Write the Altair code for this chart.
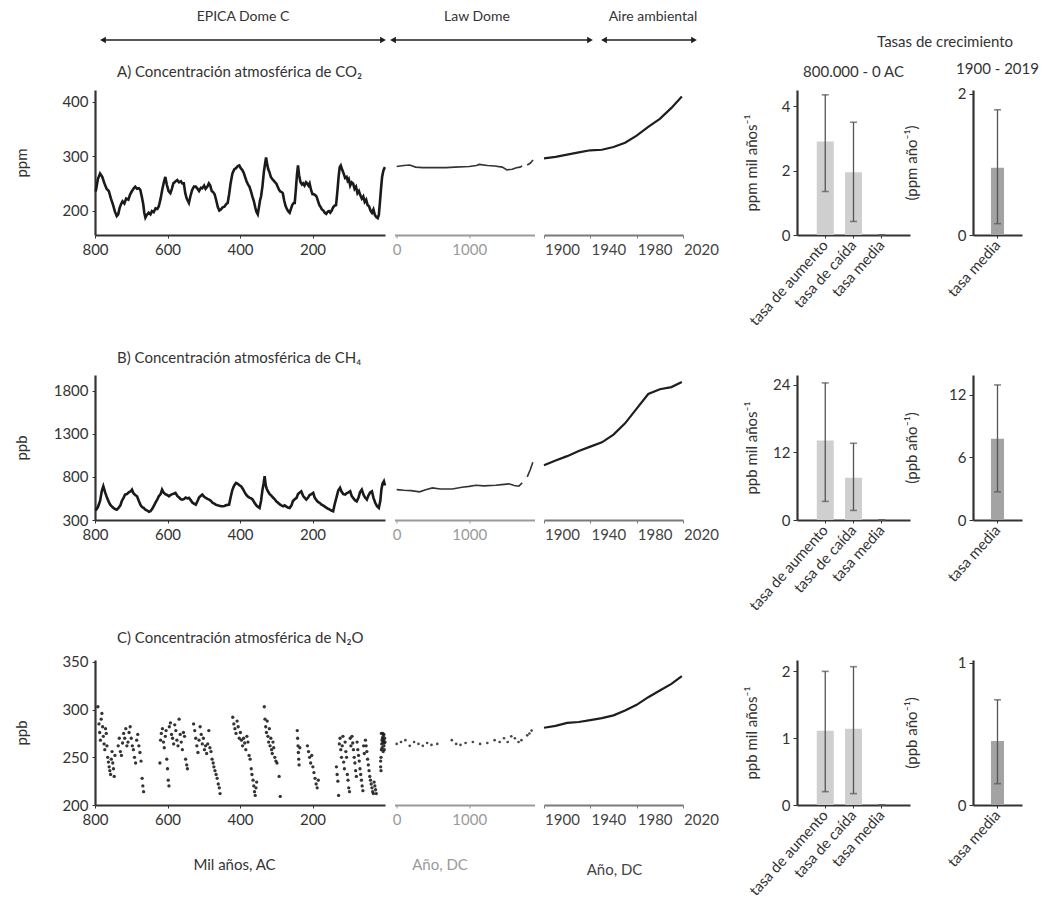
import altair as alt
import pandas as pd

FONT = "Lato, 'DejaVu Sans', sans-serif"
TXT = "#333333"

# ---------------- header ----------------
HDR_LABELS = ["EPICA Dome C", "Law Dome", "Aire ambiental", "Tasas de crecimiento"]
HDR_X = [243, 477, 653, 945]
HDR_Y = [17, 17, 17, 42]
HDR_SIZE = [14, 14, 14, 15]
ARROW_X0 = [103, 393, 604]
ARROW_X1 = [383, 590, 694]
ARROW_Y = [40, 40, 40]
TITLE_A = "A) Concentración atmosférica de CO₂"
TITLE_B = "B) Concentración atmosférica de CH₄"
TITLE_C = "C) Concentración atmosférica de N₂O"

# ---------------- EPICA Dome C (miles de años AC) ----------------
CO2_KA = [798, 792, 786, 780, 774, 768, 762, 756, 750, 745, 740, 736, 732, 728, 724, 719, 714, 708, 703, 698,
          693, 689, 684, 679, 675, 671, 667, 664, 661, 657, 652, 647, 643, 638, 633, 628, 624, 619, 614, 610,
          606, 602, 597, 592, 588, 584, 579, 573, 568, 563, 559, 555, 551, 547, 544, 541, 537, 532, 527, 522,
          517, 513, 508, 504, 499, 495, 490, 486, 482, 478, 474, 470, 466, 461, 457, 453, 448, 443, 438, 434,
          430, 426, 421, 416, 411, 406, 402, 398, 394, 390, 386, 382, 378, 374, 370, 366, 362, 358, 355, 351,
          348, 345, 342, 338, 334, 330, 328, 325, 322, 319, 315, 311, 307, 303, 300, 296, 292, 289, 285, 282,
          278, 274, 270, 266, 263, 259, 256, 252, 249, 246, 243, 240, 237, 233, 229, 226, 222, 218, 215, 211,
          208, 204, 200, 196, 192, 189, 185, 181, 177, 174, 170, 166, 162, 158, 155, 151, 147, 143, 139, 135,
          131, 128, 125, 122, 118, 114, 110, 106, 103, 100, 96, 92, 88, 84, 80, 76, 72, 68, 64, 60,
          56, 52, 48, 44, 40, 36, 32, 28, 24, 20, 17, 14, 11, 8, 5, 3, 1, 0]
CO2_PPM = [235, 258, 268, 262, 250, 240, 236, 222, 210, 198, 190, 193, 205, 212, 217, 213, 222, 220, 230, 236,
           241, 244, 240, 241, 238, 226, 212, 196, 187, 192, 196, 193, 199, 197, 204, 203, 208, 222, 240, 252,
           262, 248, 236, 232, 240, 250, 253, 256, 252, 254, 250, 250, 232, 222, 218, 214, 226, 238, 244, 244,
           240, 236, 242, 241, 246, 240, 244, 250, 246, 236, 234, 230, 220, 206, 200, 202, 206, 207, 212, 214,
           230, 250, 268, 276, 278, 282, 283, 278, 275, 270, 262, 254, 248, 244, 236, 226, 218, 206, 198, 193,
           205, 218, 226, 245, 272, 290, 298, 285, 276, 271, 262, 258, 255, 252, 250, 244, 238, 235, 234, 232,
           218, 208, 202, 198, 196, 204, 210, 214, 214, 238, 265, 283, 265, 252, 248, 250, 246, 252, 250, 246,
           250, 238, 230, 230, 228, 226, 218, 210, 206, 202, 200, 196, 194, 198, 199, 196, 200, 206, 209, 210,
           238, 262, 280, 283, 275, 268, 260, 262, 255, 258, 246, 252, 250, 240, 244, 232, 236, 228, 222, 226,
           216, 220, 210, 208, 200, 196, 202, 192, 188, 186, 192, 215, 240, 262, 272, 276, 279, 280]

CH4_KA = [798, 792, 786, 781, 777, 772, 767, 762, 758, 752, 746, 740, 735, 730, 726, 721, 717, 712, 707, 702,
          698, 694, 689, 684, 679, 674, 670, 666, 661, 656, 651, 647, 642, 637, 632, 628, 624, 619, 615, 611,
          606, 601, 596, 592, 587, 583, 578, 573, 568, 563, 559, 554, 550, 545, 541, 536, 531, 527, 522, 517,
          513, 508, 504, 499, 494, 490, 485, 480, 476, 471, 467, 462, 457, 452, 448, 443, 439, 434, 430, 426,
          421, 416, 411, 406, 401, 397, 392, 387, 383, 378, 374, 369, 365, 360, 355, 351, 346, 342, 338, 335,
          332, 329, 326, 323, 318, 313, 309, 304, 300, 295, 290, 286, 281, 277, 272, 268, 263, 258, 254, 249,
          244, 240, 235, 231, 226, 222, 217, 212, 208, 203, 198, 194, 189, 185, 180, 176, 171, 166, 161, 157,
          152, 148, 143, 139, 134, 129, 124, 120, 115, 110, 106, 101, 96, 92, 87, 83, 78, 73, 69, 64,
          59, 55, 50, 46, 41, 36, 32, 27, 22, 17, 13, 10, 7, 3, 0]
CH4_PPB = [410, 450, 520, 640, 692, 620, 560, 510, 478, 450, 430, 420, 440, 470, 520, 560, 594, 600, 620, 630,
           652, 610, 590, 575, 520, 470, 450, 440, 420, 410, 395, 401, 430, 470, 510, 540, 575, 600, 652, 620,
           600, 590, 575, 590, 600, 605, 614, 580, 560, 540, 536, 545, 560, 550, 556, 530, 500, 490, 478, 520,
           560, 580, 594, 570, 555, 545, 536, 520, 500, 490, 478, 470, 465, 460, 459, 462, 470, 475, 478, 560,
           650, 700, 730, 720, 700, 692, 660, 620, 594, 570, 560, 550, 536, 500, 470, 455, 440, 520, 650, 720,
           808, 700, 660, 633, 600, 580, 560, 540, 517, 500, 480, 470, 459, 470, 455, 445, 440, 470, 520, 540,
           556, 600, 620, 633, 580, 560, 536, 560, 590, 600, 614, 560, 530, 510, 498, 480, 470, 455, 440, 430,
           420, 410, 401, 480, 560, 640, 672, 630, 600, 594, 610, 620, 633, 580, 550, 530, 517, 560, 620, 652,
           590, 560, 536, 580, 620, 633, 560, 500, 460, 440, 520, 650, 720, 749, 700]

N2O_KA = [792, 789, 787, 785, 783, 781, 779, 777, 775, 773, 771, 769, 767, 765, 763, 761, 759, 757, 755, 753,
          751, 749, 747, 745, 736, 733, 730, 727, 724, 721, 718, 715, 712, 709, 706, 703, 700, 697, 694, 691,
          688, 685, 682, 679, 676, 673, 670, 668, 666, 621, 619, 617, 614, 611, 609, 606, 604, 602, 600, 598,
          596, 595, 592, 589, 586, 583, 580, 577, 574, 571, 568, 565, 562, 559, 556, 553, 550, 547, 545, 528,
          525, 522, 519, 516, 513, 510, 507, 504, 501, 498, 495, 492, 489, 486, 483, 480, 477, 474, 472, 469,
          466, 463, 460, 457, 455, 420, 417, 414, 411, 408, 405, 402, 399, 396, 393, 390, 387, 384, 381, 378,
          375, 372, 369, 367, 364, 362, 360, 358, 356, 354, 333, 331, 329, 327, 325, 323, 321, 319, 317, 315,
          313, 311, 309, 307, 304, 301, 298, 292, 289, 242, 241, 240, 239, 238, 237, 235, 214, 211, 208, 205,
          202, 199, 196, 193, 190, 187, 184, 134, 132, 130, 128, 126, 124, 122, 120, 118, 116, 114, 112, 110,
          108, 106, 104, 102, 100, 98, 96, 94, 91, 89, 87, 85, 83, 81, 79, 77, 75, 73, 71, 69,
          67, 65, 63, 61, 59, 57, 54, 52, 50, 48, 46, 44, 42, 40, 38, 36, 34, 32, 30, 28,
          26, 24, 12, 11, 10, 9, 8, 7, 6, 5, 4, 3, 2, 1, 0, 10, 6, 3, 8, 5,
          2, 12, 11]
N2O_PPB = [303, 285, 276, 268, 290, 296, 282, 272, 264, 258, 280, 275, 262, 250, 245, 240, 236, 232, 248, 256,
           244, 238, 230, 252, 262, 270, 256, 252, 265, 275, 270, 280, 262, 266, 276, 282, 270, 262, 258, 250,
           244, 268, 274, 262, 255, 246, 228, 220, 214, 244, 268, 275, 280, 266, 260, 272, 278, 248, 238, 226,
           220, 282, 286, 274, 270, 264, 284, 278, 268, 262, 290, 274, 266, 258, 276, 272, 248, 242, 238, 285,
           278, 270, 262, 255, 268, 282, 274, 264, 270, 258, 262, 254, 264, 278, 260, 256, 248, 244, 240, 236,
           232, 228, 222, 218, 212, 292, 285, 280, 275, 288, 282, 270, 276, 268, 262, 270, 265, 258, 272, 266,
           252, 248, 238, 232, 226, 220, 214, 210, 218, 224, 303, 290, 282, 276, 288, 272, 266, 280, 262, 270,
           258, 254, 266, 260, 250, 246, 244, 230, 209, 278, 270, 262, 255, 248, 242, 260, 262, 256, 250, 244,
           252, 240, 234, 228, 222, 218, 226, 240, 232, 225, 210, 264, 270, 258, 250, 262, 272, 245, 238, 266,
           256, 250, 232, 226, 218, 214, 270, 262, 272, 265, 258, 250, 244, 236, 230, 266, 258, 252, 246, 238,
           232, 226, 220, 215, 262, 254, 268, 262, 256, 248, 242, 236, 230, 226, 222, 218, 214, 212, 224, 220,
           216, 212, 240, 250, 258, 264, 268, 270, 266, 272, 268, 262, 265, 270, 266, 275, 275, 274, 260, 256,
           258, 246, 236]

# ---------------- Law Dome (años DC) ----------------
LD_CO2_YR = [0, 100, 178, 260, 361, 500, 680, 800, 1000, 1100, 1137, 1250, 1350, 1456, 1520, 1593, 1650, 1700, 1730,
             1800, 1840, 1880]
LD_CO2_PPM = [281, 283, 284, 280, 279, 279, 279, 280, 281, 283, 285, 283, 282, 280, 275, 276, 279, 280, 282,
              284, 287, 293]
LD_CO2_SEG = [1] * 19 + [2] * 3

LD_CH4_YR = [0, 100, 200, 315, 400, 493, 600, 767, 900, 1000, 1092, 1200, 1366, 1450, 1548, 1620, 1685, 1730,
             1800, 1840, 1877]
LD_CH4_PPB = [652, 645, 640, 626, 650, 672, 660, 660, 680, 690, 703, 695, 703, 710, 719, 700, 692, 730,
              800, 880, 970]
LD_CH4_SEG = [1] * 18 + [2] * 3

LD_N2O_YR = [0, 60, 120, 180, 240, 300, 360, 420, 480, 560, 760, 820, 880, 950, 1050, 1150, 1250, 1350, 1420,
             1480, 1530, 1580, 1630, 1680, 1720, 1800, 1830, 1860]
LD_N2O_PPB = [264, 266, 268, 262, 266, 264, 262, 265, 263, 264, 268, 264, 263, 265, 266, 264, 265, 268, 266,
              270, 266, 272, 270, 266, 268, 273, 275, 278]

# ---------------- Aire ambiental (años DC) ----------------
AMB_YR = [1900, 1910, 1920, 1930, 1940, 1950, 1960, 1970, 1980, 1990, 2000, 2010, 2019]
AMB_CO2 = [296, 299, 303, 307, 311, 312, 317, 325, 338, 354, 369, 389, 410]
AMB_CH4 = [935, 990, 1040, 1100, 1150, 1200, 1290, 1420, 1590, 1760, 1815, 1840, 1900]
AMB_N2O = [281, 283, 286, 287, 289, 291, 294, 299, 305, 313, 320, 327, 335]

# ---------------- tasas de crecimiento ----------------
CATS_L = ["tasa de aumento", "tasa de caída", "tasa media"]
CATS_R = ["tasa media"]
CO2_L = [2.9, 1.95, 0.0]
CO2_L_LO = [1.35, 0.42, 0.0]
CO2_L_HI = [4.35, 3.5, 0.0]
CO2_R = [0.95]
CO2_R_LO = [0.16]
CO2_R_HI = [1.77]
CH4_L = [14.1, 7.5, 0.0]
CH4_L_LO = [3.3, 1.7, 0.0]
CH4_L_HI = [24.3, 13.6, 0.0]
CH4_R = [7.8]
CH4_R_LO = [2.7]
CH4_R_HI = [12.95]
N2O_L = [1.11, 1.14, 0.0]
N2O_L_LO = [0.2, 0.17, 0.0]
N2O_L_HI = [2.0, 2.07, 0.0]
N2O_R = [0.45]
N2O_R_LO = [0.15]
N2O_R_HI = [0.74]

PH = 145  # plot height
ROW_A_TOP = 90  # page y of row A plot top (used to anchor the header layer)


def ax(**kw):
    base = dict(labelFont=FONT, labelFontSize=15, labelColor=TXT, titleFont=FONT, titleFontSize=15,
                titleColor=TXT, titleFontWeight="normal", domainColor="#333333", domainWidth=2.2,
                tickColor="#333333", tickSize=3, grid=False, labelFlush=False, labelOverlap=False)
    base.update(kw)
    return alt.Axis(**base)


def row_title(text):
    return alt.TitleParams(text=text, anchor="start", frame="group", dx=22, fontSize=15, font=FONT, color=TXT,
                           fontWeight="normal", offset=9)


def epica_chart(ka, vals, ydom, yticks, ytitle, points=False, bottom=False):
    df = pd.DataFrame({"ka": ka, "v": vals})
    xkw = dict(values=[800, 600, 400, 200], title=None, labelPadding=4, format="d")
    if bottom:
        xkw.update(title="Mil años, AC", titleX=139, titleY=52)
    x = alt.X("ka:Q", scale=alt.Scale(domain=[800, 0], nice=False, zero=False), axis=ax(**xkw))
    y = alt.Y("v:Q", scale=alt.Scale(domain=ydom, nice=False, zero=False),
              axis=ax(values=yticks, title=ytitle, titleX=-66, titleY=PH / 2, labelPadding=4, format="d"))
    base = alt.Chart(df)
    if points:
        m = base.mark_circle(size=11, color="#1e1e1e", opacity=0.9)
    else:
        m = base.mark_line(color="#1a1a1a", strokeWidth=2.6)
    return m.encode(x=x, y=y)


def header_layers():
    # page-coordinate scales anchored to the first panel (x: 95..385, y: 90..235)
    hx = alt.Scale(domain=[95, 385], nice=False, zero=False)
    hy = alt.Scale(domain=[ROW_A_TOP, ROW_A_TOP + PH], nice=False, zero=False, reverse=True)
    hdr_txt = pd.DataFrame({"label": HDR_LABELS, "x": HDR_X, "y": HDR_Y, "fs": HDR_SIZE})
    hdr_arr = pd.DataFrame({"x": ARROW_X0, "x2": ARROW_X1, "y": ARROW_Y})
    ttl = pd.DataFrame({"label": [TITLE_A], "x": [117], "y": [72]})
    h_text = alt.Chart(hdr_txt).mark_text(font=FONT, color=TXT, baseline="middle").encode(
        x=alt.X("x:Q", scale=hx, axis=None), y=alt.Y("y:Q", scale=hy, axis=None), text="label:N",
        size=alt.Size("fs:Q", scale=None, legend=None))
    h_title = alt.Chart(ttl).mark_text(font=FONT, color=TXT, baseline="middle", align="left", fontSize=15).encode(
        x=alt.X("x:Q", scale=hx, axis=None), y=alt.Y("y:Q", scale=hy, axis=None), text="label:N")
    h_rule = alt.Chart(hdr_arr).mark_rule(color="#1e1e1e", strokeWidth=1.6).encode(
        x=alt.X("x:Q", scale=hx, axis=None), x2="x2:Q", y=alt.Y("y:Q", scale=hy, axis=None))
    h_left = alt.Chart(hdr_arr).mark_point(shape="triangle-left", filled=True, size=45, color="#1e1e1e",
                                           opacity=1).encode(
        x=alt.X("x:Q", scale=hx, axis=None), y=alt.Y("y:Q", scale=hy, axis=None))
    h_right = alt.Chart(hdr_arr).mark_point(shape="triangle-right", filled=True, size=45, color="#1e1e1e",
                                            opacity=1).encode(
        x=alt.X("x2:Q", scale=hx, axis=None), y=alt.Y("y:Q", scale=hy, axis=None))
    return [h_rule, h_left, h_right, h_text, h_title]


def epica_panel(ka, vals, ydom, yticks, ytitle, title=None, points=False, bottom=False, header=False):
    main = epica_chart(ka, vals, ydom, yticks, ytitle, points, bottom)
    if header:
        return alt.layer(main, *header_layers()).resolve_scale(x="independent", y="independent").properties(
            width=290, height=PH)
    return alt.layer(main).properties(width=290, height=PH, title=row_title(title))


def lawdome_panel(yr, vals, seg, ydom, points=False, bottom=False):
    df = pd.DataFrame({"yr": yr, "v": vals, "seg": seg})
    xkw = dict(values=[0, 1000], title=None, domainColor="#9a9a9a", labelColor="#9a9a9a",
               tickColor="#9a9a9a", labelPadding=4, format="d")
    if bottom:
        xkw.update(title="Año, DC", titleColor="#9a9a9a", titleX=45, titleY=52)
    x = alt.X("yr:Q", scale=alt.Scale(domain=[-30, 1900], nice=False, zero=False), axis=ax(**xkw))
    y = alt.Y("v:Q", scale=alt.Scale(domain=ydom, nice=False, zero=False), axis=None)
    base = alt.Chart(df)
    if points:
        return base.mark_circle(size=7, color="#333333", opacity=0.9).encode(x=x, y=y).properties(
            width=140, height=PH)
    return base.mark_line(color="#333333", strokeWidth=1.6).encode(x=x, y=y, detail="seg:N").properties(
        width=140, height=PH)


def ambient_panel(vals, ydom, bottom=False):
    df = pd.DataFrame({"yr": AMB_YR, "v": vals})
    xkw = dict(values=[1900, 1940, 1980, 2020], title=None, domainColor="#7a7a7a", labelColor="#444444",
               tickColor="#7a7a7a", labelOffset=18, labelPadding=4, format="d")
    if bottom:
        xkw.update(title="Año, DC", titleColor="#444444", titleX=70, titleY=57)
    x = alt.X("yr:Q", scale=alt.Scale(domain=[1900, 2020], nice=False, zero=False), axis=ax(**xkw))
    y = alt.Y("v:Q", scale=alt.Scale(domain=ydom, nice=False, zero=False), axis=None)
    return alt.Chart(df).mark_line(color="#1e1e1e", strokeWidth=2.2).encode(x=x, y=y).properties(
        width=139, height=PH)


def bar_panel(cats, vals, lo, hi, ydom, yticks, ytitle, fill, width, pin, pout, title_x, title=None):
    df = pd.DataFrame({"cat": cats, "v": vals, "lo": lo, "hi": hi})
    x = alt.X("cat:N", sort=cats, scale=alt.Scale(paddingInner=pin, paddingOuter=pout),
              axis=ax(title=None, labelAngle=-48, labelAlign="right", labelBaseline="middle",
                      labelFontSize=15, labelPadding=4, tickSize=3))
    ysc = alt.Scale(domain=ydom, nice=False, zero=True)
    y = alt.Y("v:Q", scale=ysc, axis=ax(values=yticks, title=ytitle, titleX=title_x, titleY=PH / 2,
                                         tickSize=4, labelPadding=3, format="d"))
    base = alt.Chart(df)
    bars = base.mark_bar(color=fill).encode(x=x, y=y)
    err = base.mark_rule(color="#555555", strokeWidth=1.3).encode(x=x, y=alt.Y("lo:Q", scale=ysc), y2="hi:Q")
    cap_lo = base.mark_tick(color="#555555", thickness=1.6, size=7).encode(x=x, y=alt.Y("lo:Q", scale=ysc))
    cap_hi = base.mark_tick(color="#555555", thickness=1.6, size=7).encode(x=x, y=alt.Y("hi:Q", scale=ysc))
    props = dict(width=width, height=PH)
    if title:
        props["title"] = alt.TitleParams(text=title, anchor="middle", frame="group", fontSize=15, font=FONT,
                                         color=TXT, fontWeight="normal", offset=10)
    return alt.layer(bars, err, cap_lo, cap_hi).properties(**props)


def spacer(w):
    return alt.Chart(pd.DataFrame({"s": [0]})).mark_point(opacity=0).encode(
        x=alt.X("s:Q", axis=None), y=alt.Y("s:Q", axis=None)).properties(width=w, height=PH)


def row(ep, ld, am, bl, br):
    return [ep, ld, am, spacer(95), bl, spacer(44), br]


cells = []
cells += row(
    epica_panel(CO2_KA, CO2_PPM, [155, 422], [200, 300, 400], "ppm", header=True),
    lawdome_panel(LD_CO2_YR, LD_CO2_PPM, LD_CO2_SEG, [155, 422]),
    ambient_panel(AMB_CO2, [155, 422]),
    bar_panel(CATS_L, CO2_L, CO2_L_LO, CO2_L_HI, [0, 4.5], [0, 2, 4], "ppm mil años⁻¹", "#cfcfcf", 113, 0.4, 0.7,
              -38, "800.000 - 0 AC"),
    bar_panel(CATS_R, CO2_R, CO2_R_LO, CO2_R_HI, [0, 2.05], [0, 1, 2], "(ppm año⁻¹)", "#a3a3a3", 49, 0.5, 0.69,
              -54, "1900 - 2019"),
)
cells += row(
    epica_panel(CH4_KA, CH4_PPB, [300, 1980], [300, 800, 1300, 1800], "ppb", TITLE_B),
    lawdome_panel(LD_CH4_YR, LD_CH4_PPB, LD_CH4_SEG, [300, 1980]),
    ambient_panel(AMB_CH4, [300, 1980]),
    bar_panel(CATS_L, CH4_L, CH4_L_LO, CH4_L_HI, [0, 25.7], [0, 12, 24], "ppb mil años⁻¹", "#cfcfcf", 113, 0.4, 0.7,
              -38),
    bar_panel(CATS_R, CH4_R, CH4_R_LO, CH4_R_HI, [0, 13.9], [0, 6, 12], "(ppb año⁻¹)", "#a3a3a3", 49, 0.5, 0.69,
              -54),
)
cells += row(
    epica_panel(N2O_KA, N2O_PPB, [200, 352], [200, 250, 300, 350], "ppb", TITLE_C, points=True, bottom=True),
    lawdome_panel(LD_N2O_YR, LD_N2O_PPB, [1] * len(LD_N2O_YR), [200, 352], points=True, bottom=True),
    ambient_panel(AMB_N2O, [200, 352], bottom=True),
    bar_panel(CATS_L, N2O_L, N2O_L_LO, N2O_L_HI, [0, 2.17], [0, 1, 2], "ppb mil años⁻¹", "#cfcfcf", 113, 0.4, 0.7,
              -38),
    bar_panel(CATS_R, N2O_R, N2O_R_LO, N2O_R_HI, [0, 1.02], [0, 1], "(ppb año⁻¹)", "#a3a3a3", 49, 0.5, 0.69,
              -54),
)

chart = alt.concat(*cells, columns=7, spacing={"row": 140, "column": 9.5}, bounds="flush").properties(
    padding={"left": 14, "top": 10, "right": 5, "bottom": 5}
).configure_view(strokeWidth=0)

chart.save("out.html", embed_options={"renderer": "svg", "actions": False})
